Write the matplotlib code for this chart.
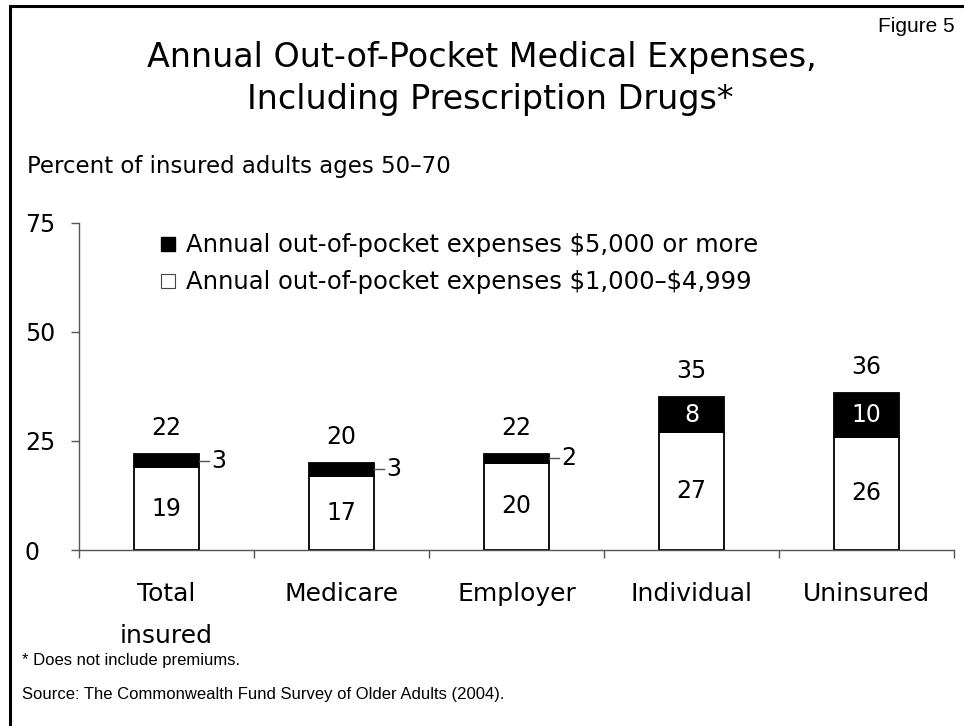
import matplotlib.pyplot as plt
from matplotlib.lines import Line2D
from matplotlib.patches import Rectangle

categories = ['Total\ninsured', 'Medicare', 'Employer', 'Individual', 'Uninsured']
mid_range = [19, 17, 20, 27, 26]      # $1,000-$4,999
high_range = [3, 3, 2, 8, 10]         # $5,000 or more
totals = [22, 20, 22, 35, 36]
yticks = [0, 25, 50, 75]

main_font = 'DejaVu Sans'
note_font = 'Liberation Sans'
axis_gray = '#555555'

fig = plt.figure(figsize=(9.64, 7.26), dpi=100)

# frame around the slide
fig.patches.append(Rectangle((10 / 964, -0.1), 1.2, (726 - 6) / 726 + 0.1,
                             transform=fig.transFigure, fill=False,
                             edgecolor='black', linewidth=2.2))

ax = fig.add_axes([79 / 964, (726 - 550) / 726, 875 / 964, 327.3 / 726])

x = list(range(len(categories)))
bar_width = 0.377

ax.bar(x, mid_range, width=bar_width, color='white', edgecolor='black', linewidth=1.3)
ax.bar(x, high_range, width=bar_width, bottom=mid_range, color='black',
       edgecolor='black', linewidth=1.3)

for i in x:
    lo = mid_range[i]
    hi = high_range[i]
    ax.text(i, lo / 2, str(lo), ha='center', va='center', fontsize=17, family=main_font)
    ax.text(i, totals[i] + 6, str(totals[i]), ha='center', va='center',
            fontsize=17, family=main_font)
    if hi >= 5:
        ax.text(i, lo + hi / 2, str(hi), ha='center', va='center',
                fontsize=17, color='white', family=main_font)
    else:
        # small segment: label outside with a short leader line
        x0 = i + bar_width / 2
        ax.plot([x0, x0 + 0.055], [lo + hi / 2] * 2, color=axis_gray, linewidth=1)
        ax.text(x0 + 0.065, lo + hi / 2, str(hi), ha='left', va='center',
                fontsize=17, family=main_font)

ax.set_xlim(-0.5, len(categories) - 0.5)
ax.set_ylim(0, 75)
ax.set_yticks(yticks)
ax.set_yticklabels([str(t) for t in yticks], fontsize=17, family=main_font, ha='left')
ax.set_xticks(x)
ax.set_xticklabels(categories, fontsize=18, family=main_font, linespacing=1.95, va='top')
ax.set_xticks([i - 0.5 for i in range(len(categories) + 1)], minor=True)
ax.tick_params(axis='x', which='major', length=0, pad=23)
ax.tick_params(axis='x', which='minor', length=6, direction='out', color=axis_gray, width=1)
ax.tick_params(axis='y', length=6, direction='out', color=axis_gray, width=1, pad=33)

for side in ['top', 'right']:
    ax.spines[side].set_visible(False)
for side in ['left', 'bottom']:
    ax.spines[side].set_color(axis_gray)
    ax.spines[side].set_linewidth(1)

handles = [
    Line2D([], [], marker='s', linestyle='none', markersize=9.5,
           markerfacecolor='black', markeredgecolor='black'),
    Line2D([], [], marker='s', linestyle='none', markersize=9.5,
           markerfacecolor='white', markeredgecolor='#444444', markeredgewidth=0.8),
]
ax.legend(handles, ['Annual out-of-pocket expenses \\$5,000 or more',
                    'Annual out-of-pocket expenses \\$1,000\u2013\\$4,999'],
          loc='upper left', bbox_to_anchor=(0.082, 0.998), frameon=False,
          prop={'family': main_font, 'size': 17.5}, handlelength=0.6,
          handletextpad=0.45, labelspacing=0.55, borderaxespad=0)

fig.text(482 / 964, 1 - 58 / 726, 'Annual Out-of-Pocket Medical Expenses,',
         ha='center', va='center', fontsize=24, family=main_font)
fig.text(490 / 964, 1 - 100 / 726, 'Including Prescription Drugs*',
         ha='center', va='center', fontsize=24, family=main_font)
fig.text(955 / 964, 1 - 27 / 726, 'Figure 5', ha='right', va='center',
         fontsize=15, family=note_font)
fig.text(27 / 964, 1 - 167 / 726, 'Percent of insured adults ages 50\u201370',
         ha='left', va='center', fontsize=16.5, family=main_font)
fig.text(22 / 964, 1 - 661 / 726, '* Does not include premiums.',
         ha='left', va='center', fontsize=12, family=note_font)
fig.text(22 / 964, 1 - 694 / 726, 'Source: The Commonwealth Fund Survey of Older Adults (2004).',
         ha='left', va='center', fontsize=12, family=note_font)

fig.savefig('out.png', dpi=100)
